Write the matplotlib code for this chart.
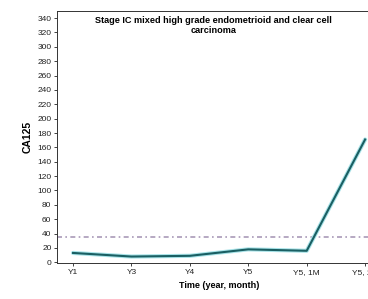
import matplotlib
matplotlib.use("Agg")
import matplotlib.pyplot as plt

plt.rcParams["font.family"] = ["Liberation Sans", "DejaVu Sans"]

time_labels = ["Y1", "Y3", "Y4", "Y5", "Y5, 1M", "Y5, 2M"]
ca125 = [13, 8, 9, 18, 16, 171]
threshold = 35
yticks = list(range(0, 341, 20))

fig = plt.figure(figsize=(3.68, 2.99), dpi=100)
ax = fig.add_axes([0.155, 0.1204, 0.88, 0.843])

x = list(range(len(time_labels)))
ax.plot(x, ca125, color="#a8e3e8", lw=3.0, solid_capstyle="round", zorder=2)
ax.plot(x, ca125, color="#1a5f63", lw=1.5, zorder=3)
ax.axhline(threshold, color="#a99ab8", lw=1.2, ls=(0, (3, 2, 1, 2)), zorder=1)

ax.set_xlim(-0.274, 5.27)
ax.set_ylim(-1, 350)
ax.set_xticks(x)
ax.set_xticklabels(time_labels)
ax.set_yticks(yticks)
ax.tick_params(labelsize=6, length=2.5, width=0.6, pad=1.5, colors="#222222")

for s in ax.spines.values():
    s.set_linewidth(0.7)
    s.set_color("#333333")

ax.set_ylabel("CA125", fontsize=7.5, fontweight="bold", labelpad=3)
ax.set_xlabel("Time (year, month)", fontsize=6.5, fontweight="bold", labelpad=4)
ax.text(0.579, 0.948, "Stage IC mixed high grade endometrioid and clear cell\ncarcinoma",
        transform=fig.transFigure, ha="center", va="top", fontsize=6.6,
        fontweight="bold", multialignment="center", linespacing=1.25)

fig.savefig("out.png", dpi=100)
